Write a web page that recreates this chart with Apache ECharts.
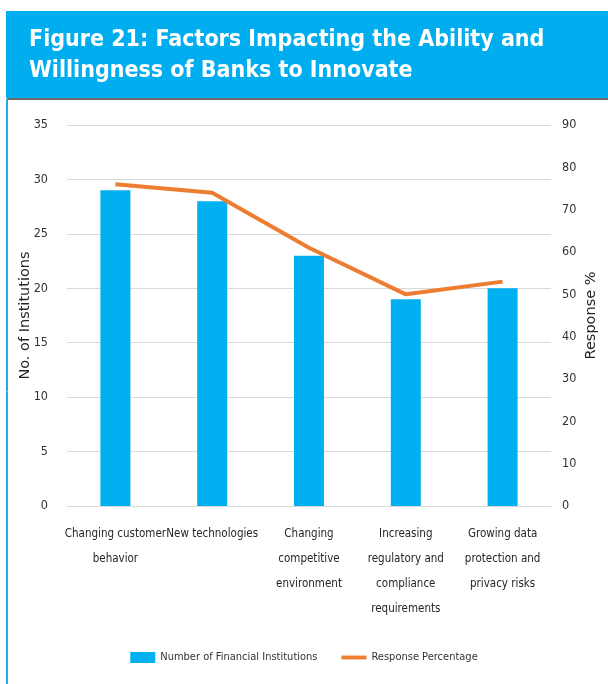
<!DOCTYPE html>
<html>
<head>
<meta charset="utf-8">
<script src="https://cdn.jsdelivr.net/npm/echarts@6/dist/echarts.min.js"></script>
<style>
html,body{margin:0;padding:0;background:#fff;}
#chart{width:608px;height:684px;}
</style>
</head>
<body>
<div id="chart"></div>
<script>
var categories = [
  "Changing customer\nbehavior",
  "New technologies",
  "Changing\ncompetitive\nenvironment",
  "Increasing\nregulatory and\ncompliance\nrequirements",
  "Growing data\nprotection and\nprivacy risks"
];
var institutions = [29, 28, 23, 19, 20];
var responsePct = [76, 74, 61, 50, 53];
var leftTicks = {min: 0, max: 35, interval: 5};
var rightTicks = {min: 0, max: 90, interval: 10};

var FONT = '"DejaVu Sans Condensed", "Liberation Sans Narrow", "Liberation Sans", sans-serif';
var chart = echarts.init(document.getElementById('chart'), null, {renderer: 'canvas'});
chart.setOption({
  backgroundColor: '#ffffff',
  animation: false,
  graphic: [
    {type: 'rect', shape: {x: 6, y: 11, width: 602, height: 87}, style: {fill: '#00ADEF'}, z: -1},
    {type: 'line', shape: {x1: 7, y1: 99, x2: 608, y2: 99}, style: {stroke: '#3a3a3a', lineWidth: 1.5}},
    {type: 'line', shape: {x1: 6.5, y1: 99, x2: 6.5, y2: 684}, style: {stroke: '#2aa7df', lineWidth: 1}},
    {type: 'line', shape: {x1: 7.5, y1: 99, x2: 7.5, y2: 684}, style: {stroke: '#8a8a8a', lineWidth: 1}}
  ],
  title: {
    text: 'Figure 21: Factors Impacting the Ability and\nWillingness of Banks to Innovate',
    left: 24, top: 20,
    textStyle: {color: '#ffffff', fontSize: 23, fontWeight: 'bold', fontFamily: FONT, lineHeight: 31}
  },
  grid: {left: 67, right: 57, top: 125, bottom: 178},
  legend: {
    top: 647, left: 'center',
    itemWidth: 25, itemHeight: 11, itemGap: 24,
    textStyle: {fontFamily: FONT, fontSize: 11, color: '#333'},
    data: [
      {name: 'Number of Financial Institutions', icon: 'rect'},
      {name: 'Response Percentage', icon: 'path://M0,0 L26,0 L26,4 L0,4 Z'}
    ]
  },
  xAxis: {
    type: 'category',
    data: categories,
    axisLine: {show: true, lineStyle: {color: '#d9d9d9', width: 1}},
    axisTick: {show: false},
    axisLabel: {interval: 0, margin: 16, fontFamily: FONT, fontSize: 11.5, color: '#262626', lineHeight: 25}
  },
  yAxis: [
    {
      type: 'value', min: leftTicks.min, max: leftTicks.max, interval: leftTicks.interval,
      name: 'No. of Institutions', nameLocation: 'middle', nameRotate: 90, nameGap: 34, nameMoveOverlap: false,
      nameTextStyle: {fontFamily: '"DejaVu Sans", sans-serif', fontSize: 14.5, color: '#262626'},
      axisLine: {show: false}, axisTick: {show: false},
      axisLabel: {margin: 19, fontFamily: FONT, fontSize: 12.5, color: '#333'},
      splitLine: {lineStyle: {color: '#d9d9d9', width: 1}}
    },
    {
      type: 'value', min: rightTicks.min, max: rightTicks.max, interval: rightTicks.interval,
      name: 'Response %', nameLocation: 'middle', nameRotate: 90, nameGap: 33, nameMoveOverlap: false,
      nameTextStyle: {fontFamily: '"DejaVu Sans", sans-serif', fontSize: 14.5, color: '#262626'},
      axisLine: {show: false}, axisTick: {show: false},
      axisLabel: {margin: 11, fontFamily: FONT, fontSize: 12.5, color: '#333'},
      splitLine: {show: false}
    }
  ],
  series: [
    {
      name: 'Number of Financial Institutions', type: 'bar', yAxisIndex: 0,
      data: institutions, barWidth: 30,
      itemStyle: {color: '#00B0F0'}
    },
    {
      name: 'Response Percentage', type: 'line', yAxisIndex: 1,
      data: responsePct, symbol: 'none', showSymbol: false,
      lineStyle: {color: '#ED7D31', width: 4},
      itemStyle: {color: '#ED7D31'},
      label: {show: true, position: 'right', distance: 4, fontFamily: FONT, fontSize: 14, color: '#222'}
    }
  ]
});
</script>
</body>
</html>
